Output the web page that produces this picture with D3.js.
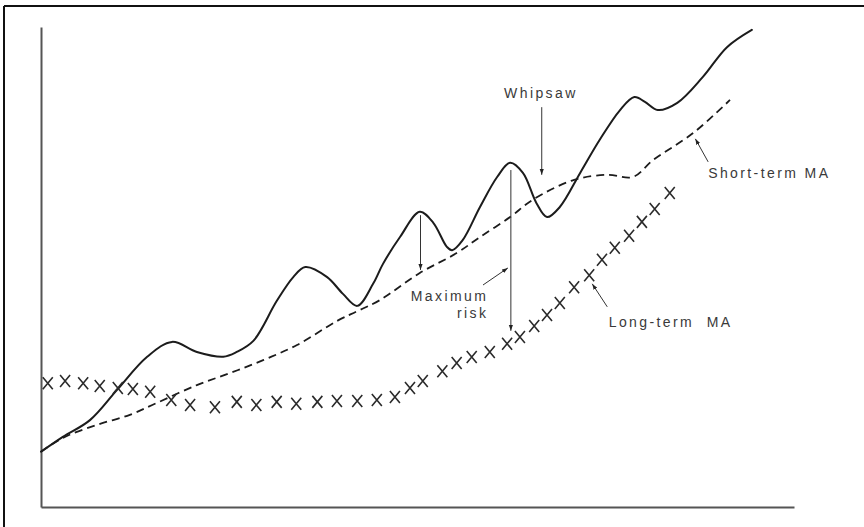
<!DOCTYPE html>
<html>
<head>
<meta charset="utf-8">
<script src="https://cdn.jsdelivr.net/npm/d3@7"></script>
<style>
  html, body { margin: 0; padding: 0; background: #fff; }
  svg { display: block; }
  text { font-family: "Liberation Sans", Arial, Helvetica, sans-serif; fill: #3a3a3a; }
</style>
</head>
<body>
<script>
// ---- Data (arbitrary units, x: time 0-100, y: price 0-100) ----
const priceX = [0, 2.9, 6.5, 10.1, 14.1, 17.4, 20.7, 24.2, 26.0, 28.2, 31.3, 33.5, 35.1, 38.0, 40.1, 42.0, 44.1, 45.4, 47.7, 50.3, 52.1, 53.9, 54.6, 56.0, 58.3, 60.6, 62.3, 64.0, 65.8, 67.2, 68.9, 71.6, 74.2, 76.9, 78.8, 80.2, 81.9, 84.5, 87.9, 91.1, 94.4];
const priceY = [11.5, 14.6, 18.1, 24.4, 31.3, 34.4, 32.3, 31.3, 32.3, 34.6, 42.9, 47.9, 50.0, 47.9, 44.4, 41.9, 46.5, 50.6, 56.3, 61.5, 59.2, 54.2, 53.5, 55.6, 62.5, 68.8, 71.7, 69.6, 63.3, 60.4, 62.5, 69.6, 76.5, 82.7, 85.4, 84.4, 82.7, 84.2, 89.6, 95.8, 99.4];

const shortX = [0, 2.9, 7.4, 11.8, 15.4, 20.7, 25.1, 29.5, 34.0, 39.3, 42.0, 45.0, 50.3, 55.2, 58.3, 62.3, 65.3, 70.7, 75.2, 78.6, 81.3, 86.6, 91.5];
const shortY = [11.5, 14.4, 17.1, 19.2, 21.7, 25.4, 27.9, 30.6, 33.75, 38.75, 40.8, 43.1, 48.75, 52.9, 56.25, 60.4, 64.0, 68.1, 69.2, 68.75, 72.3, 77.9, 84.8];

const longX = [0.9, 3.2, 5.6, 7.8, 10.2, 12.2, 14.5, 17.3, 19.8, 23.1, 26.0, 28.6, 31.3, 33.9, 36.7, 39.3, 42.0, 44.6, 47.0, 49.0, 50.7, 53.3, 55.2, 57.2, 59.6, 61.9, 63.6, 65.5, 67.2, 68.9, 70.8, 72.8, 74.5, 76.2, 78.1, 79.8, 81.5, 83.5];
const longY = [25.8, 26.25, 25.8, 25.2, 24.8, 24.6, 24.0, 22.3, 21.25, 20.8, 21.9, 21.25, 21.9, 21.5, 21.9, 22.1, 22.1, 22.3, 22.9, 24.8, 26.25, 28.3, 30.0, 31.25, 32.3, 34.0, 35.4, 37.7, 40.0, 42.5, 45.8, 48.3, 51.5, 54.0, 56.5, 59.4, 62.1, 65.4];

// Annotation labels and arrows (in data units)
const labelText = ["Whipsaw", "Short-term MA", "Long-term  MA", "Maximum", "risk"];
const labelX = [61.5, 88.6, 75.4, 59.4, 59.4];
const labelY = [85.2, 68.5, 37.5, 42.9, 39.4];
const labelAnchor = ["start", "start", "start", "end", "end"];

const arrowX1 = [66.5, 50.4, 62.4, 58.7, 88.6, 75.2];
const arrowY1 = [83.3, 60.8, 70.2, 46.25, 71.9, 41.7];
const arrowX2 = [66.5, 50.4, 62.4, 62.0, 86.9, 73.2];
const arrowY2 = [69.2, 49.4, 36.7, 49.8, 76.7, 46.5];

// ---- Layout ----
const W = 864, H = 527;
const svg = d3.select("body").append("svg").attr("width", W).attr("height", H);

const x = d3.scaleLinear().domain([0, 100]).range([41, 794]);
const y = d3.scaleLinear().domain([0, 100]).range([507, 27]);

// outer frame (top and left edges visible)
svg.append("line").attr("x1", 4).attr("y1", 6).attr("x2", W).attr("y2", 6)
  .attr("stroke", "#111").attr("stroke-width", 2);
svg.append("line").attr("x1", 4).attr("y1", 6).attr("x2", 4).attr("y2", H)
  .attr("stroke", "#111").attr("stroke-width", 2);

// axes (no ticks)
svg.append("g").attr("transform", `translate(0,${y(0)})`)
  .call(d3.axisBottom(x).tickValues([]).tickSizeOuter(0));
svg.append("g").attr("transform", `translate(${x(0)},0)`)
  .call(d3.axisLeft(y).tickValues([]).tickSizeOuter(0));
svg.selectAll(".domain").attr("stroke", "#555").attr("stroke-width", 2);

// marker
const defs = svg.append("defs");
defs.append("marker").attr("id", "ah")
  .attr("viewBox", "0 0 10 10").attr("refX", 10).attr("refY", 5)
  .attr("markerWidth", 6).attr("markerHeight", 6).attr("markerUnits", "userSpaceOnUse")
  .attr("orient", "auto")
  .append("path").attr("d", "M0,1.5 L10,5 L0,8.5 Z").attr("fill", "#222");

const price = priceX.map((d, i) => ({x: d, y: priceY[i]}));
const shortMA = shortX.map((d, i) => ({x: d, y: shortY[i]}));
const longMA = longX.map((d, i) => ({x: d, y: longY[i]}));

const line = d3.line().x(d => x(d.x)).y(d => y(d.y)).curve(d3.curveCatmullRom.alpha(0.5));

svg.append("path").datum(price).attr("d", line)
  .attr("fill", "none").attr("stroke", "#1c1c1c").attr("stroke-width", 2)
  .attr("stroke-linejoin", "round").attr("stroke-linecap", "round");

svg.append("path").datum(shortMA).attr("d", line)
  .attr("fill", "none").attr("stroke", "#1c1c1c").attr("stroke-width", 1.8)
  .attr("stroke-dasharray", "8,5");

// long-term MA as X marks (letter-like, taller than wide)
const sw = 5, sh = 6;
svg.append("g").selectAll("path").data(longMA).join("path")
  .attr("transform", d => `translate(${x(d.x)},${y(d.y)})`)
  .attr("d", `M${-sw},${-sh}L${sw},${sh}M${-sw},${sh}L${sw},${-sh}`)
  .attr("stroke", "#2a2a2a").attr("stroke-width", 1.6).attr("fill", "none");

// arrows
svg.append("g").selectAll("line").data(arrowX1).join("line")
  .attr("x1", (d, i) => x(arrowX1[i])).attr("y1", (d, i) => y(arrowY1[i]))
  .attr("x2", (d, i) => x(arrowX2[i])).attr("y2", (d, i) => y(arrowY2[i]))
  .attr("stroke", "#333").attr("stroke-width", 1)
  .attr("marker-end", "url(#ah)");

// labels
svg.append("g").selectAll("text").data(labelText).join("text")
  .attr("x", (d, i) => x(labelX[i])).attr("y", (d, i) => y(labelY[i]))
  .attr("text-anchor", (d, i) => labelAnchor[i])
  .attr("font-size", 14).attr("letter-spacing", "2.4px")
  .style("white-space", "pre")
  .text(d => d);
</script>
</body>
</html>
